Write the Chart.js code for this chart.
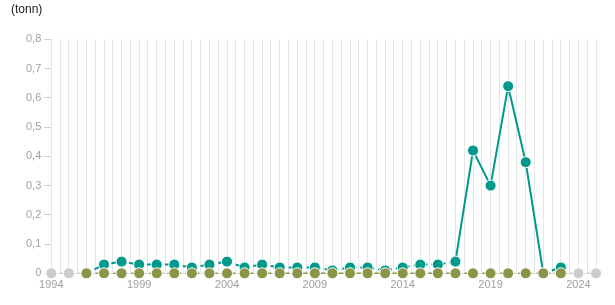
<!DOCTYPE html>
<html>
<head>
<meta charset="utf-8">
<script src="https://cdn.jsdelivr.net/npm/chart.js@4"></script>
<style>
  html, body { margin: 0; padding: 0; background: #fff; }
  #wrap { width: 615px; height: 305px; }
</style>
</head>
<body>
<div id="wrap"><canvas id="chart"></canvas></div>
<script>
// years on the x axis
var years = [1994, 1995, 1996, 1997, 1998, 1999, 2000, 2001, 2002, 2003, 2004,
             2005, 2006, 2007, 2008, 2009, 2010, 2011, 2012, 2013, 2014, 2015,
             2016, 2017, 2018, 2019, 2020, 2021, 2022, 2023, 2024, 2025];

// teal series (tonn)
var mainValues = [null, null, 0, 0.03, 0.04, 0.03, 0.03, 0.03, 0.02, 0.03, 0.04,
                  0.02, 0.03, 0.02, 0.02, 0.02, 0.01, 0.02, 0.02, 0.01, 0.02, 0.03,
                  0.03, 0.04, 0.42, 0.30, 0.64, 0.38, 0, 0.02, null, null];

// olive series, flat at zero
var otherValues = [null, null, 0, 0, 0, 0, 0, 0, 0, 0, 0,
                   0, 0, 0, 0, 0, 0, 0, 0, 0, 0, 0,
                   0, 0, 0, 0, 0, 0, 0, 0, null, null];

// grey "no data" years
var missingValues = [0, 0, 0, null, null, null, null, null, null, null, null,
                     null, null, null, null, null, null, null, null, null, null, null,
                     null, null, null, null, null, null, null, 0, 0, 0];

// years where the teal line is drawn solid (segment start)
var solidFrom = [2017, 2018, 2019, 2020, 2021];

var yTicks = [0, 0.1, 0.2, 0.3, 0.4, 0.5, 0.6, 0.7, 0.8];
var xLabelYears = [1994, 1999, 2004, 2009, 2014, 2019, 2024];

function toPoints(values) {
    return years.map(function(y, i) {
        return { x: y, y: values[i] };
    });
}

var teal = "#00998c";
var olive = "#8a9548";
var grey = "#cccccc";
var fontFamily = "Arial, 'Liberation Sans', sans-serif";

var data = {
    datasets: [
        {
            label: "olive",
            data: toPoints(otherValues),
            borderColor: olive,
            backgroundColor: olive,
            borderWidth: 1.5,
            borderDash: [5, 4],
            pointRadius: 5.5,
            pointBorderColor: "#ffffff",
            pointBorderWidth: 1,
            pointBackgroundColor: olive,
            spanGaps: false,
            clip: false,
            order: 1
        },
        {
            label: "grey",
            data: toPoints(missingValues),
            borderColor: grey,
            backgroundColor: grey,
            borderWidth: 1.5,
            borderDash: [5, 4],
            pointRadius: function(ctx) {
                var yr = years[ctx.dataIndex];
                return (yr == 1996 || yr == 2023) ? 0 : 5.5;
            },
            pointBorderColor: "#ffffff",
            pointBorderWidth: 1,
            pointBackgroundColor: grey,
            spanGaps: false,
            clip: false,
            order: 2
        },
        {
            label: "teal",
            data: toPoints(mainValues),
            borderColor: teal,
            backgroundColor: teal,
            borderWidth: 2,
            pointRadius: 5.5,
            pointBorderColor: "#ffffff",
            pointBorderWidth: 1,
            pointBackgroundColor: teal,
            spanGaps: false,
            clip: false,
            order: 3,
            segment: {
                borderDash: function(ctx) {
                    var yr = ctx.p0.parsed.x;
                    return solidFrom.indexOf(yr) >= 0 ? undefined : [5, 4];
                }
            }
        }
    ]
};

var config = {
    type: "line",
    data: data,
    options: {
        responsive: true,
        maintainAspectRatio: false,
        animation: false,
        layout: {
            padding: { left: 11, right: 19, top: 0, bottom: 8.5 }
        },
        plugins: {
            legend: { display: false },
            tooltip: { enabled: false },
            title: {
                display: true,
                text: "(tonn)",
                align: "start",
                color: "#222222",
                font: { family: fontFamily, size: 12, weight: "normal" },
                padding: { top: 2, bottom: 23 }
            }
        },
        scales: {
            x: {
                type: "linear",
                min: 1994,
                max: 2025,
                afterBuildTicks: function(axis) {
                    // a gridline every half year
                    var t = [];
                    for (var i = 0; i <= (2025 - 1994) * 2; i++) {
                        t.push({ value: 1994 + i / 2 });
                    }
                    axis.ticks = t;
                },
                ticks: {
                    autoSkip: false,
                    maxRotation: 0,
                    color: "#a0a0a0",
                    padding: 5,
                    font: { family: fontFamily, size: 11 },
                    callback: function(value) {
                        return xLabelYears.indexOf(value) >= 0 ? String(value) : "";
                    }
                },
                grid: {
                    color: "#e6e6e6",
                    drawTicks: false,
                    lineWidth: 1
                },
                border: { display: true, color: "#dddddd" }
            },
            y: {
                min: 0,
                max: 0.8,
                afterBuildTicks: function(axis) {
                    axis.ticks = yTicks.map(function(v) { return { value: v }; });
                },
                afterFit: function(axis) {
                    axis.width += 12;
                },
                ticks: {
                    color: "#a0a0a0",
                    padding: 3,
                    font: { family: fontFamily, size: 11 },
                    callback: function(value) {
                        if (value == 0) return "0";
                        return value.toFixed(1).replace(".", ",");
                    }
                },
                grid: {
                    drawOnChartArea: false,
                    drawTicks: true,
                    tickLength: 7,
                    color: "#cfcfcf"
                },
                border: { display: false }
            }
        }
    }
};

window.addEventListener("DOMContentLoaded", function() {
    new Chart(document.getElementById("chart"), config);
});
</script>
</body>
</html>
